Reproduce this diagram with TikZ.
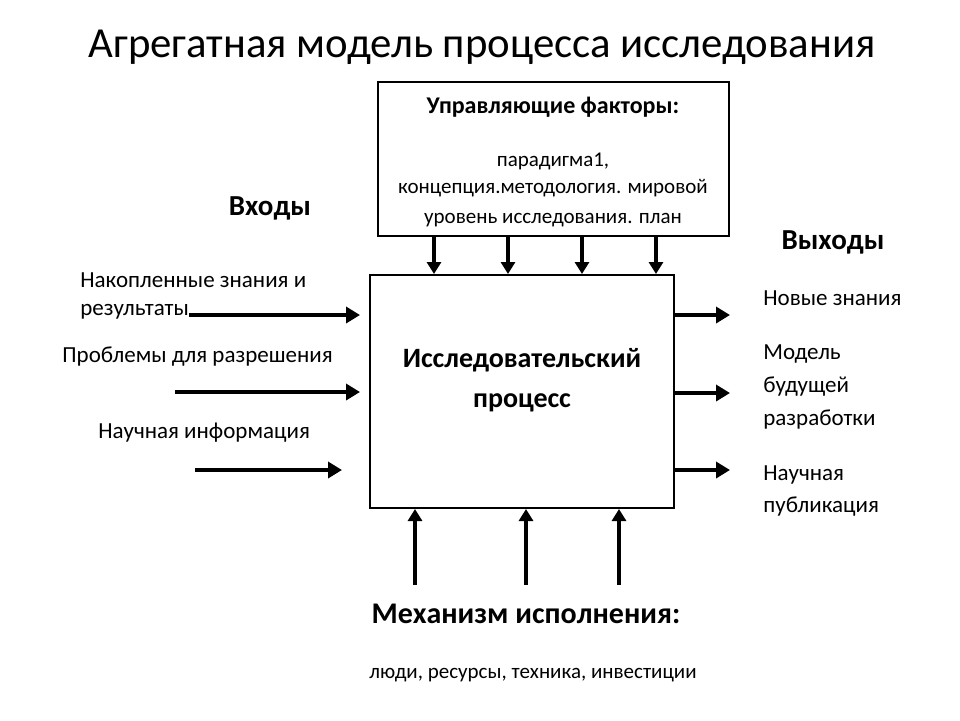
\documentclass[tikz,border=0pt]{standalone}
\usepackage{fontspec}
\setmainfont{Carlito}
\usetikzlibrary{arrows.meta}
\tikzset{
  box/.style={draw, line width=1pt, inner sep=0pt},
  lbl/.style={anchor=west, inner sep=0pt},
  hdr/.style={inner sep=0pt, font=\fontsize{14.5}{17}\selectfont\bfseries},
  arr/.style={line width=2pt, -{Triangle[length=7pt, width=8pt]}},
  tarr/.style={line width=2pt, -{Triangle[length=6pt, width=7pt]}}
}
\begin{document}
\begin{tikzpicture}[x=0.5pt, y=-0.5pt]
        \useasboundingbox (0,0) rectangle (960,720);
        % title
        \node[inner sep=0pt, font=\fontsize{21.4}{25}\selectfont] (title) at (482,47) {Агрегатная модель процесса исследования};
        % control box
        \node[box, minimum width=175.5pt, minimum height=77pt] (ctrl) at (553.5,159) {};
        \node[inner sep=0pt, font=\fontsize{12}{14}\selectfont\bfseries] (ctrlhd) at (553,107) {Управляющие факторы:};
        \node[inner sep=0pt, font=\fontsize{10.5}{13}\selectfont] (ctrl1) at (553,161) {парадигма1,};
        \node[inner sep=0pt, font=\fontsize{10.5}{13}\selectfont] (ctrl2) at (553,188) {концепция.методология. мировой};
        \node[inner sep=0pt, font=\fontsize{10.5}{13}\selectfont] (ctrl3) at (553,220) {уровень исследования. план};
        % main process box
        \node[box, minimum width=152pt, minimum height=116.5pt] (main) at (522,391.5) {};
        \node[inner sep=0pt, align=center, font=\fontsize{14}{20}\selectfont\bfseries] (proc) at (522,380) {Исследовательский\\процесс};
        % control arrows
        \foreach \x in {434,508,582,656}
            \draw[tarr] (ctrl.south -| \x,0) -- (main.north -| \x,0);
        % inputs
        \node[hdr] (inhd) at (270,208) {Входы};
        \node[lbl, font=\fontsize{11.5}{14}\selectfont] (in1a) at (80,280) {Накопленные знания и};
        \node[lbl, font=\fontsize{11.5}{14}\selectfont] (in1b) at (80,312) {результаты};
        \node[lbl, font=\fontsize{11.5}{14}\selectfont] (in2) at (62,357) {Проблемы для разрешения};
        \node[lbl, font=\fontsize{11.5}{14}\selectfont] (in3) at (98,433) {Научная информация};
        \coordinate (i1) at (360,315);
        \coordinate (i2s) at (175,392);
        \coordinate (i2) at (360,392);
        \coordinate (i3s) at (195,470);
        \coordinate (i3) at (342,470);
        \draw[arr] (in1b.east |- i1) -- (i1);
        \draw[arr] (i2s) -- (i2);
        \draw[arr] (i3s) -- (i3);
        % outputs
        \node[hdr] (outhd) at (833,242) {Выходы};
        \node[lbl, font=\fontsize{11.5}{14}\selectfont] (out1) at (763,298) {Новые знания};
        \node[lbl, align=left, font=\fontsize{11.5}{16.5}\selectfont] (out2) at (763,387) {Модель\\будущей\\разработки};
        \node[lbl, align=left, font=\fontsize{11.5}{16}\selectfont] (out3) at (763,491) {Научная\\публикация};
        \coordinate (o1) at (730,315);
        \coordinate (o2) at (730,393);
        \coordinate (o3) at (730,470);
        \foreach \o in {o1,o2,o3}
            \draw[arr] (main.east |- \o) -- (\o);
        % mechanisms
        \foreach \x in {415,526,619}
            \draw[tarr] (\x,585) -- (main.south -| \x,0);
        \node[hdr, font=\fontsize{15}{18}\selectfont\bfseries] (mechhd) at (526,614) {Механизм исполнения:};
        \node[inner sep=0pt, font=\fontsize{10.5}{13}\selectfont] (mech) at (533,675) {люди, ресурсы, техника, инвестиции};
\end{tikzpicture}
\end{document}
